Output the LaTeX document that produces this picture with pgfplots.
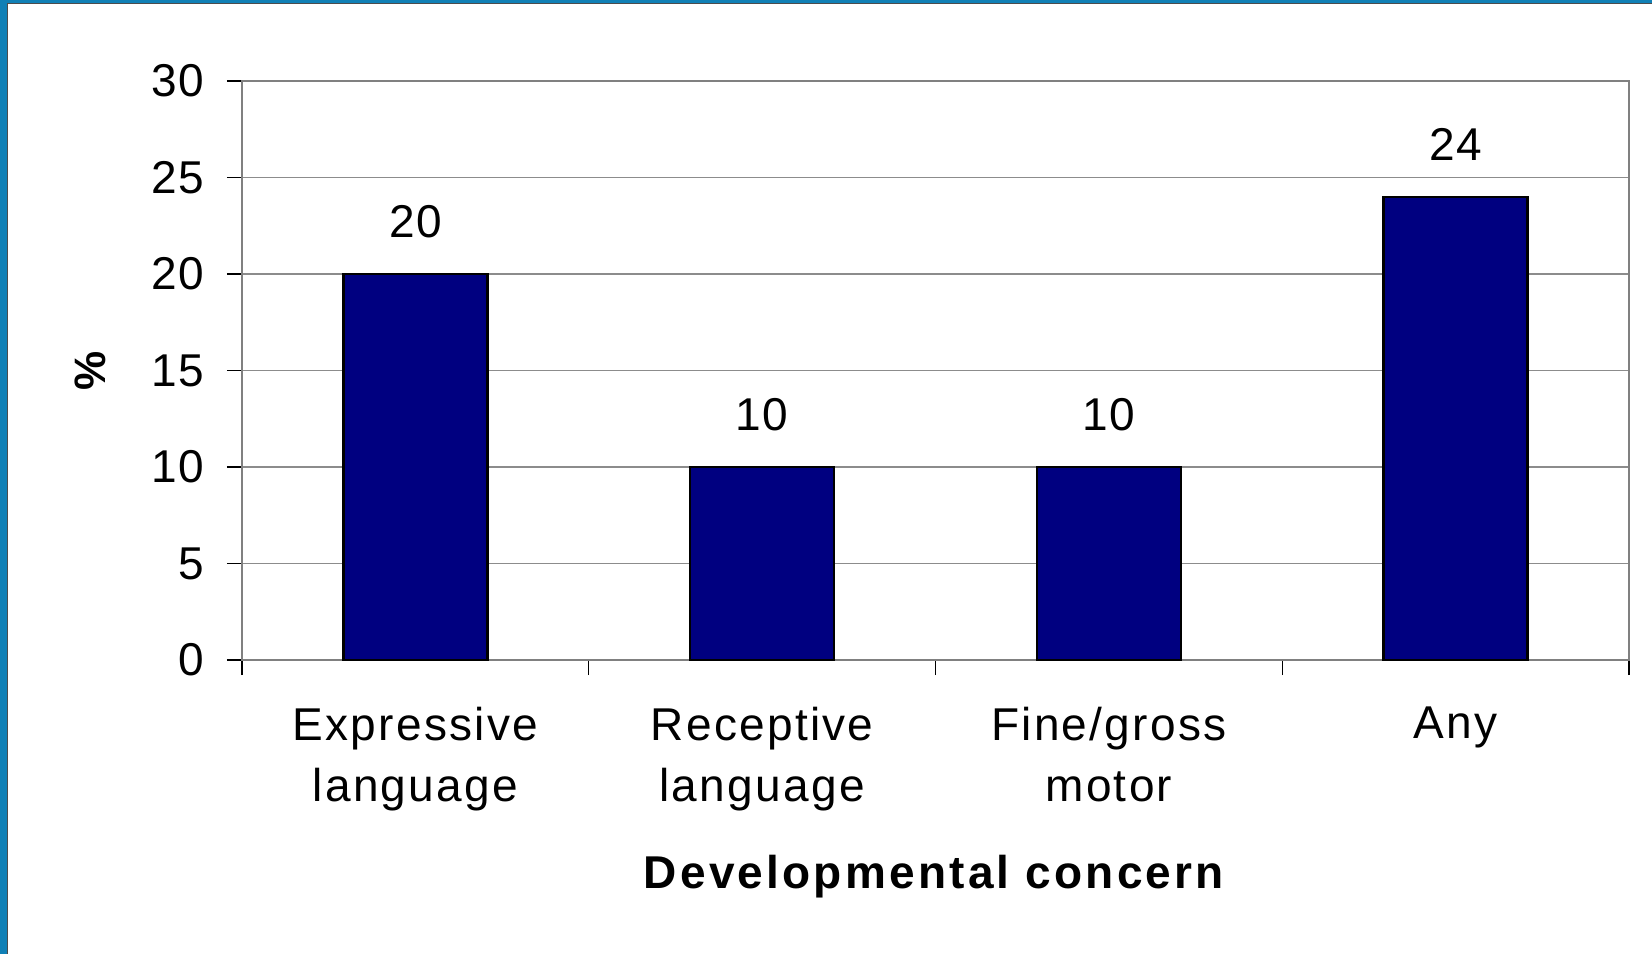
\documentclass[border=0pt]{standalone}
\usepackage{fontspec}
\setmainfont{Liberation Sans}
\usepackage{pgfplots}
\pgfplotsset{compat=1.18}
\definecolor{slideblue}{RGB}{16,128,182}
\definecolor{barnavy}{RGB}{0,0,128}
\begin{document}
\begin{tikzpicture}
\fill[slideblue] (-121pt,-147pt) rectangle (705pt,330pt);
\fill[black!70] (-117.5pt,-147pt) rectangle (705pt,328.6pt);
\fill[white] (-117pt,-147pt) rectangle (705pt,328pt);
\begin{axis}[
 at={(0,0)}, anchor=south west,
 scale only axis, width=693.5pt, height=289.5pt,
 xmin=-0.5, xmax=3.5, ymin=0, ymax=30,
 ytick={0,5,...,30},
 xtick={-0.5,0.5,1.5,2.5,3.5},
 xticklabels={},
 xtick pos=bottom, ytick pos=left,
 extra x ticks={0,1,2,3},
 extra x tick labels={{Expressive\\language},{Receptive\\language},{Fine/gross\\motor},{Any}},
 extra x tick style={major tick length=0pt, grid=none,
   xticklabel style={align=center, font=\fontsize{23}{30.5}\selectfont\addfontfeatures{LetterSpace=5}, yshift=-20pt}},
 tick align=outside,
 major tick length=7.5pt,
 tick style={black, line width=0.6pt},
 ymajorgrids,
 grid style={gray!90, line width=0.8pt},
 axis line style={gray, line width=1.2pt},
 yticklabel style={font=\fontsize{23}{28}\selectfont\addfontfeatures{LetterSpace=3}, xshift=-8pt},
 /pgf/number format/assume math mode=true,
 ylabel={\textbf{\%}},
 ylabel style={at={(axis description cs:0,0.5)}, anchor=center, yshift=76pt, font=\fontsize{22}{28}\selectfont},
 xlabel={\textbf{Developmental concern}},
 xlabel style={at={(axis description cs:0.5,0)}, anchor=base, yshift=-114pt, font=\fontsize{23}{28}\selectfont\addfontfeatures{LetterSpace=7}},
 nodes near coords,
 every node near coord/.append style={font=\fontsize{23}{28}\selectfont\addfontfeatures{LetterSpace=3}, anchor=south, yshift=14pt, black},
]
\addplot[ybar, bar width=72pt, fill=barnavy, draw=black, line width=1.2pt] coordinates {(0,20) (1,10) (2,10) (3,24)};
\end{axis}
\end{tikzpicture}
\end{document}
